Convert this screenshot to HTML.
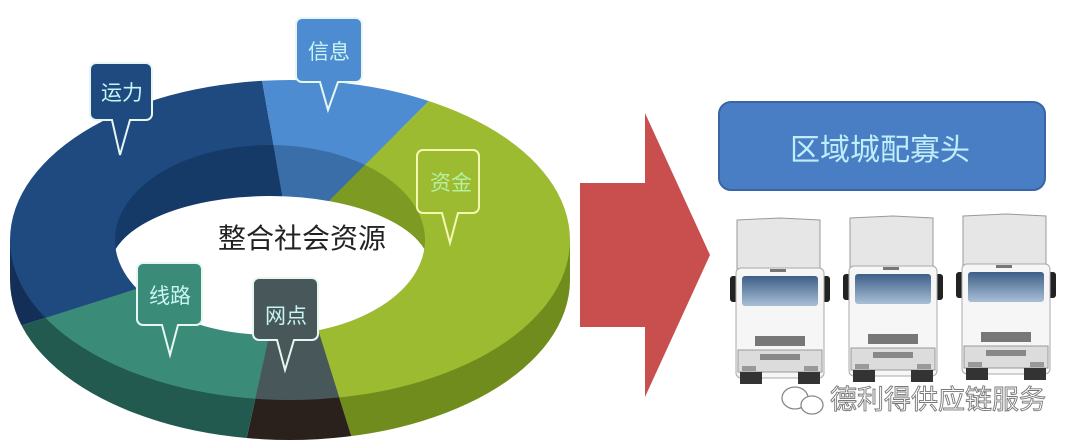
<!DOCTYPE html>
<html><head><meta charset="utf-8"><style>
html,body{margin:0;padding:0;background:#fff;width:1080px;height:446px;overflow:hidden;}
svg{display:block;}
text{font-family:"Liberation Sans","Noto Sans CJK SC",sans-serif;}
</style></head><body>
<svg width="1080" height="446" viewBox="0 0 1080 446" xmlns="http://www.w3.org/2000/svg">
<defs>
<clipPath id="top"><ellipse cx="290" cy="240" rx="280" ry="160"/></clipPath>
<clipPath id="side"><ellipse cx="290" cy="280" rx="280" ry="160"/><rect x="10" y="240" width="560" height="40"/></clipPath>
<clipPath id="hole"><ellipse cx="270" cy="240" rx="155" ry="95"/></clipPath>
<linearGradient id="win" x1="0" y1="0" x2="0" y2="1"><stop offset="0" stop-color="#3d5f88"/><stop offset="1" stop-color="#a9bfd6"/></linearGradient>
<g id="truck">
<path d="M7 2 L50 0 L90 2 L90 80 L7 80 Z" fill="#e6e6e6" stroke="#9a9a9a" stroke-width="1"/>
<rect x="0" y="58" width="8" height="26" rx="3" fill="#222"/>
<rect x="92" y="58" width="8" height="26" rx="3" fill="#222"/>
<rect x="6" y="50" width="88" height="110" rx="5" fill="#f6f6f6" stroke="#aaa"/>
<rect x="12" y="58" width="76" height="30" rx="3" fill="url(#win)"/>
<rect x="40" y="51" width="16" height="3" fill="#777"/>
<rect x="25" y="118" width="50" height="10" fill="#777"/>
<rect x="8" y="132" width="84" height="22" fill="#dcdcdc" stroke="#999"/>
<rect x="30" y="136" width="40" height="6" fill="#888"/>
<rect x="12" y="148" width="14" height="5" fill="#999"/>
<rect x="74" y="148" width="14" height="5" fill="#999"/>
<rect x="10" y="154" width="22" height="12" fill="#333"/>
<rect x="68" y="154" width="22" height="12" fill="#333"/>
</g>
</defs>

<g clip-path="url(#side)">
<polygon points="290,240 206,-240 -500,-240 -500,474 -445,474" fill="#132f58"/>
<polygon points="290,240 206,-240 665,-240 665,-135" fill="#3568a8"/>
<polygon points="290,240 665,-135 1000,-135 1000,720 440,720" fill="#6f8c1c"/>
<polygon points="290,240 440,720 185,720" fill="#2a201c"/>
<polygon points="290,240 185,720 -500,720 -500,474 -445,474" fill="#235a50"/>
</g>
<g clip-path="url(#top)">
<polygon points="290,240 206,-240 -500,-240 -500,474 -445,474" fill="#1e4a80"/>
<polygon points="290,240 206,-240 665,-240 665,-135" fill="#4e8cd2"/>
<polygon points="290,240 665,-135 1000,-135 1000,720 440,720" fill="#9cbb30"/>
<polygon points="290,240 440,720 185,720" fill="#48585a"/>
<polygon points="290,240 185,720 -500,720 -500,474 -445,474" fill="#3a8c78"/>
</g>
<g clip-path="url(#hole)">
<polygon points="290,240 206,-240 -500,-240 -500,474 -445,474" fill="#163a68"/>
<polygon points="290,240 206,-240 665,-240 665,-135" fill="#3a6ea8"/>
<polygon points="290,240 665,-135 1000,-135 1000,720 440,720" fill="#7d9a22"/>
<ellipse cx="270" cy="268" rx="160" ry="72" fill="#fff"/>
</g>
<text x="302" y="248" font-size="28" fill="#222" text-anchor="middle">整合社会资源</text>

<g stroke="#e8f6f2" stroke-width="2">
<path d="M96 63 h50 a6 6 0 0 1 6 6 v45 a6 6 0 0 1 -6 6 h-16 l-10 35 l-8 -35 h-16 a6 6 0 0 1 -6 -6 v-45 a6 6 0 0 1 6 -6z" fill="#1e4a80"/>
<path d="M302 18 h54 a6 6 0 0 1 6 6 v52 a6 6 0 0 1 -6 6 h-18 l-10 28 l-8 -28 h-18 a6 6 0 0 1 -6 -6 v-52 a6 6 0 0 1 6 -6z" fill="#4e8cd2"/>
<path d="M423 150 h50 a6 6 0 0 1 6 6 v51 a6 6 0 0 1 -6 6 h-15 l-8 30 l-8 -30 h-19 a6 6 0 0 1 -6 -6 v-51 a6 6 0 0 1 6 -6z" fill="#9cbb30" stroke="#f4f8b0"/>
<path d="M143 263 h53 a6 6 0 0 1 6 6 v50 a6 6 0 0 1 -6 6 h-18 l-8 30 l-8 -30 h-19 a6 6 0 0 1 -6 -6 v-50 a6 6 0 0 1 6 -6z" fill="#3a8c78"/>
<path d="M259 278 h53 a6 6 0 0 1 6 6 v50 a6 6 0 0 1 -6 6 h-18 l-9 30 l-8 -30 h-18 a6 6 0 0 1 -6 -6 v-50 a6 6 0 0 1 6 -6z" fill="#48585a"/>
</g>
<g font-size="21" text-anchor="middle" fill="#c8f4f4">
<text x="122" y="100">运力</text>
<text x="329" y="59">信息</text>
<text x="451" y="190" fill="#b6f0a0">资金</text>
<text x="170" y="303">线路</text>
<text x="286" y="323">网点</text>
</g>

<polygon points="580,183 645,183 645,113 710,255 645,397 645,327 580,327" fill="#c94f4f"/>

<rect x="719" y="102" width="326" height="88" rx="12" fill="#4a7ec4" stroke="#3a64a8" stroke-width="2"/>
<text x="880" y="160" font-size="30" fill="#bfeefa" text-anchor="middle">区域城配寡头</text>

<use href="#truck" x="730" y="218"/>
<use href="#truck" x="843" y="216"/>
<use href="#truck" x="956" y="214"/>

<g stroke="#888" stroke-width="1.3" fill="#fff">
<ellipse cx="795" cy="398" rx="13" ry="11"/>
<ellipse cx="812" cy="405" rx="11" ry="9"/>
</g>
<text x="830" y="409" font-size="27" fill="#fff" stroke="#777" stroke-width="0.9">德利得供应链服务</text>
</svg>
</body></html>
